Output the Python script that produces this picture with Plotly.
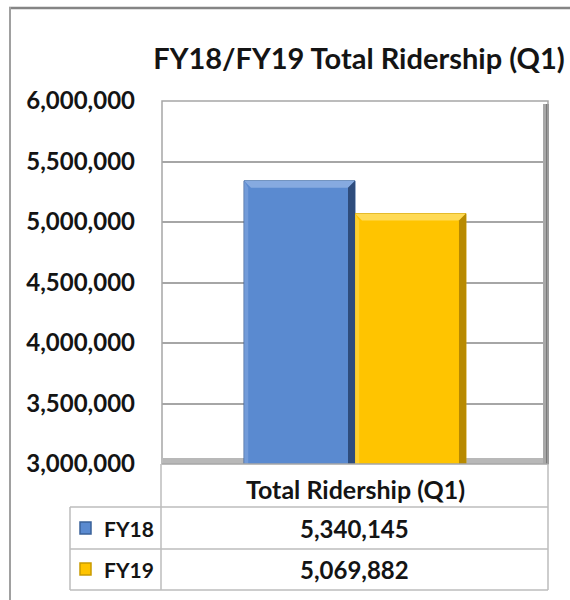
import plotly.graph_objects as go

# ---- data ----
categories = ["Total Ridership (Q1)"]
series_names = ["FY18", "FY19"]
fy18_values = [5340145]
fy19_values = [5069882]
series_colors = ["#5A8AD0", "#FFC400"]
series_edges = ["#3A6199", "#C99A00"]
series_light = ["#86AAE0", "#FFDA55"]
series_dark = ["#2E4C7C", "#B88A00"]
title_text = "FY18/FY19 Total Ridership (Q1)"
y_tick_values = [3000000, 3500000, 4000000, 4500000, 5000000, 5500000, 6000000]

series_values = [fy18_values, fy19_values]

W, H = 570, 600
PL, PR, PT, PB = 162, 548, 101, 464  # plot area in pixels
BARGAP = 0.425


def px(x):
    return (x - PL) / (PR - PL)


def py(y):
    return (PB - y) / (PB - PT)


FONT = "Lato, 'Open Sans', sans-serif"
TXT = "#141414"

fig = go.Figure()
for name, vals, col, edge in zip(series_names, series_values, series_colors, series_edges):
    fig.add_trace(go.Bar(
        x=categories, y=vals, name=name,
        marker=dict(color=col, line=dict(color=edge, width=1)),
        showlegend=False, hoverinfo="x+y+name",
    ))

shapes = []
# bevel decoration on the bars, derived from the bar values and group geometry
ymin, ymax = y_tick_values[0], y_tick_values[-1]
bw = (1 - BARGAP) / len(series_values)
bev_x = 7 / (PR - PL)               # category units
bev_y = 7 * (ymax - ymin) / (PB - PT)  # data units
for i, (vals, light, dark) in enumerate(zip(series_values, series_light, series_dark)):
    for ci, v in enumerate(vals):
        x0 = ci - (1 - BARGAP) / 2 + i * bw
        x1 = x0 + bw
        # top highlight
        shapes.append(dict(type="path", xref="x", yref="y", layer="above",
                           path=f"M {x0},{v} L {x1},{v} L {x1 - bev_x},{v - bev_y} L {x0 + bev_x},{v - bev_y} Z",
                           fillcolor=light, line=dict(width=0)))
        # right shadow
        shapes.append(dict(type="path", xref="x", yref="y", layer="above",
                           path=f"M {x1},{v} L {x1},{ymin} L {x1 - bev_x},{ymin} L {x1 - bev_x},{v - bev_y} Z",
                           fillcolor=dark, line=dict(width=0)))
        # left soft highlight
        shapes.append(dict(type="path", xref="x", yref="y", layer="above",
                           path=f"M {x0},{v} L {x0 + bev_x * 0.6},{v - bev_y} L {x0 + bev_x * 0.6},{ymin} L {x0},{ymin} Z",
                           fillcolor=light, opacity=0.55, line=dict(width=0)))

# outer chart border (top and left)
shapes.append(dict(type="line", xref="paper", yref="paper", x0=px(9), x1=px(572), y0=py(8), y1=py(8),
                   line=dict(color="#858585", width=2.5)))
shapes.append(dict(type="line", xref="paper", yref="paper", x0=px(10), x1=px(10), y0=py(7), y1=py(602),
                   line=dict(color="#A0A0A0", width=2)))
# plot area bevel: right shadow and floor
shapes.append(dict(type="rect", xref="paper", yref="paper", x0=px(543), x1=px(549), y0=py(104), y1=py(464),
                   fillcolor="#A8A8A8", line=dict(width=0), layer="above"))
shapes.append(dict(type="rect", xref="paper", yref="paper", x0=px(546), x1=px(549), y0=py(104), y1=py(464),
                   fillcolor="#7A7A7A", line=dict(width=0), layer="above"))
shapes.append(dict(type="rect", xref="paper", yref="paper", x0=px(163), x1=px(548), y0=py(458), y1=py(464),
                   fillcolor="#B8B8B8", line=dict(width=0), layer="below"))
shapes.append(dict(type="rect", xref="paper", yref="paper", x0=px(162), x1=px(548), y0=py(101), y1=py(464),
                   fillcolor="rgba(0,0,0,0)", line=dict(color="#A6A6A6", width=1.5), layer="above"))
# data table grid
grid_col = "#BDBDBD"
for yy in [507, 549, 590]:
    shapes.append(dict(type="line", xref="paper", yref="paper", x0=px(70), x1=px(548), y0=py(yy), y1=py(yy),
                       line=dict(color=grid_col, width=1.5)))
shapes.append(dict(type="line", xref="paper", yref="paper", x0=px(70), x1=px(70), y0=py(507), y1=py(590),
                   line=dict(color=grid_col, width=1.5)))
for xx in [161, 548]:
    shapes.append(dict(type="line", xref="paper", yref="paper", x0=px(xx), x1=px(xx), y0=py(464), y1=py(590),
                       line=dict(color=grid_col, width=1.5)))

annotations = []
# category header
annotations.append(dict(xref="paper", yref="paper", x=px(355), y=py(489), text=categories[0],
                        showarrow=False, xanchor="center", yanchor="middle",
                        font=dict(family=FONT, size=25, color=TXT, weight=700)))
row_centers = [528, 569]
for name, vals, col, edge, yc in zip(series_names, series_values, series_colors, series_edges, row_centers):
    shapes.append(dict(type="rect", xref="paper", yref="paper", x0=px(80), x1=px(91), y0=py(yc - 6), y1=py(yc + 6),
                       fillcolor=col, line=dict(color=edge, width=1.5)))
    annotations.append(dict(xref="paper", yref="paper", x=px(102), y=py(yc), text=name,
                            showarrow=False, xanchor="left", yanchor="middle",
                            font=dict(family=FONT, size=21, color=TXT, weight=700)))
    annotations.append(dict(xref="paper", yref="paper", x=px(354), y=py(yc), text=f"{vals[0]:,}",
                            showarrow=False, xanchor="center", yanchor="middle",
                            font=dict(family=FONT, size=24, color=TXT, weight=700)))

fig.update_layout(
    width=W, height=H,
    margin=dict(l=PL, r=W - PR, t=PT, b=H - PB, pad=0),
    paper_bgcolor="white", plot_bgcolor="white",
    barmode="group", bargap=BARGAP, bargroupgap=0,
    title=dict(text=title_text, xref="paper", x=px(359), xanchor="center",
               yref="container", y=1 - 59 / H, yanchor="middle",
               font=dict(family=FONT, size=29, color=TXT, weight=700)),
    xaxis=dict(showticklabels=False, showgrid=False, zeroline=False, showline=False, fixedrange=True,
               range=[-0.5, len(categories) - 0.5]),
    yaxis=dict(range=[ymin, ymax], tickvals=y_tick_values, tickformat=",d",
               showgrid=True, gridcolor="#A6A6A6", gridwidth=1.5, zeroline=False, showline=False,
               ticks="", ticklabelstandoff=26,
               tickfont=dict(family=FONT, size=24, color=TXT, weight=700)),
    shapes=shapes, annotations=annotations,
    font=dict(family=FONT),
)

fig.write_html("out.html", config={"displayModeBar": False},
               post_script="document.body.style.margin='0';document.body.style.padding='0';")
